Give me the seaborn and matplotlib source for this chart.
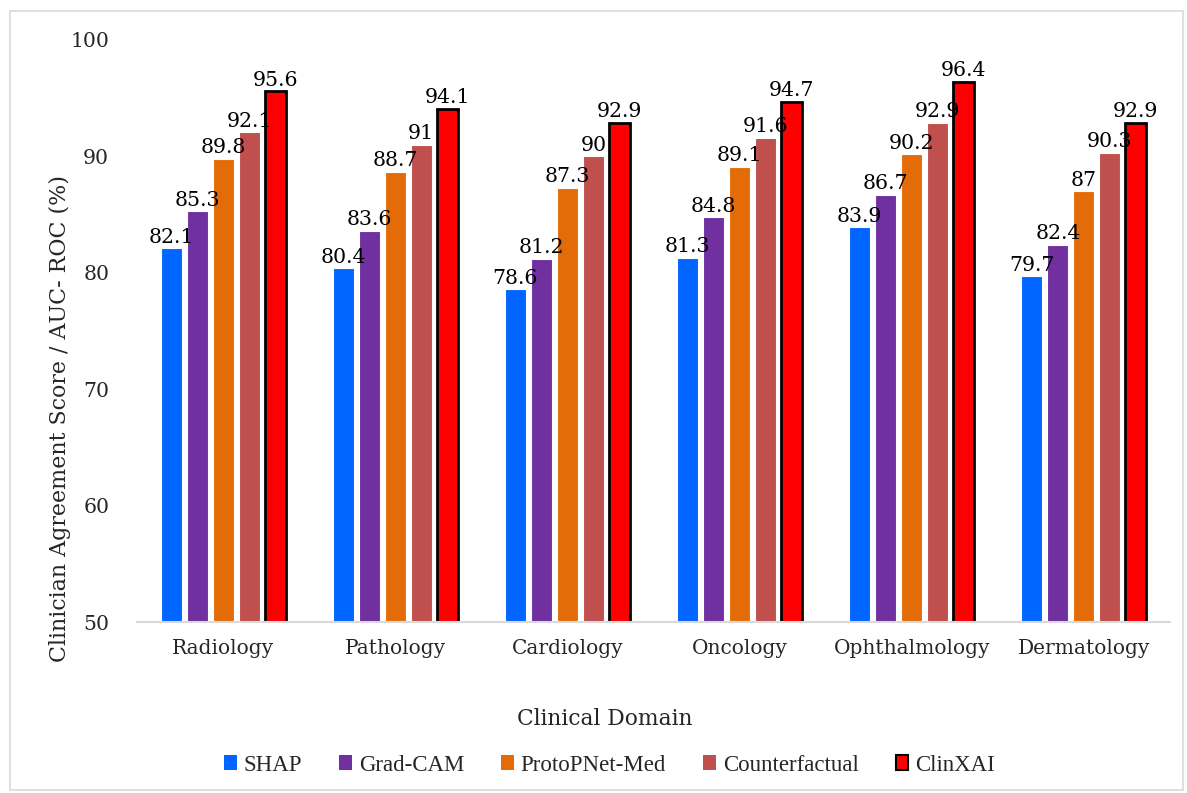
import matplotlib
matplotlib.use("Agg")
import matplotlib.pyplot as plt
from matplotlib.patches import Rectangle
import seaborn as sns
import pandas as pd

domains = ["Radiology", "Pathology", "Cardiology", "Oncology", "Ophthalmology", "Dermatology"]
methods = ["SHAP", "Grad-CAM", "ProtoPNet-Med", "Counterfactual", "ClinXAI"]
shap = [82.1, 80.4, 78.6, 81.3, 83.9, 79.7]
gradcam = [85.3, 83.6, 81.2, 84.8, 86.7, 82.4]
protopnet = [89.8, 88.7, 87.3, 89.1, 90.2, 87.0]
counterfactual = [92.1, 91.0, 90.0, 91.6, 92.9, 90.3]
clinxai = [95.6, 94.1, 92.9, 94.7, 96.4, 92.9]
colors = ["#0066FF", "#7030A0", "#E36C09", "#C0504D", "#FF0000"]

series = [shap, gradcam, protopnet, counterfactual, clinxai]
df = pd.DataFrame(
    [(d, m, v) for m, vals in zip(methods, series) for d, v in zip(domains, vals)],
    columns=["Domain", "Method", "Score"],
)

sns.set_theme(style="white")
plt.rcParams["font.family"] = ["DejaVu Serif"]

fig = plt.figure(figsize=(11.87, 7.93), dpi=100)
ax = fig.add_axes([0.1154, 0.2156, 0.8703, 0.734])

sns.barplot(data=df, x="Domain", y="Score", hue="Method", order=domains,
            hue_order=methods, palette=colors, saturation=1, width=0.755,
            gap=0.19, edgecolor="white", linewidth=0.8, ax=ax, legend=False)

# Highlight the proposed method with a black outline
for bar in ax.containers[-1]:
    bar.set_edgecolor("black")
    bar.set_linewidth(2)

for cont, vals in zip(ax.containers, series):
    labels = [f"{v:g}" for v in vals]
    ax.bar_label(cont, labels=labels, padding=1, fontsize=14.8, color="black")

ax.set_ylim(50, 100)
ax.set_yticks(range(50, 101, 10))
ax.tick_params(axis="y", labelsize=14.7, length=0, pad=20)
ax.tick_params(axis="x", labelsize=14.5, length=0, pad=12)
for s in ["top", "right", "left"]:
    ax.spines[s].set_visible(False)
ax.spines["bottom"].set_color("#D9D9D9")
ax.spines["bottom"].set_linewidth(1.5)
ax.set_xlabel("Clinical Domain", fontsize=15.7)
ax.xaxis.set_label_coords(0.453, -0.148)
ax.set_ylabel("")
fig.text(60 / 1187, 1 - 418 / 793, "Clinician Agreement Score / AUC- ROC (%)",
         rotation=90, ha="center", va="center", fontsize=15.9)

handles = [Rectangle((0, 0), 1, 1, facecolor=c,
                     edgecolor="black" if m == "ClinXAI" else c,
                     linewidth=1.5 if m == "ClinXAI" else 0)
           for m, c in zip(methods, colors)]
fig.legend(handles, methods, loc="center", bbox_to_anchor=(0.5135, 0.035),
           ncol=5, frameon=False, handlelength=0.55,
           handleheight=0.65, handletextpad=0.3, columnspacing=1.62,
           prop={"family": "Liberation Serif", "size": 16.5})

fig.patches.append(Rectangle((10 / 1187, 3 / 793), 1 - 14 / 1187, 1 - 14 / 793,
                             transform=fig.transFigure, fill=False,
                             edgecolor="#D9D9D9", linewidth=1.2))

fig.savefig("out.png", dpi=100, facecolor="white")
